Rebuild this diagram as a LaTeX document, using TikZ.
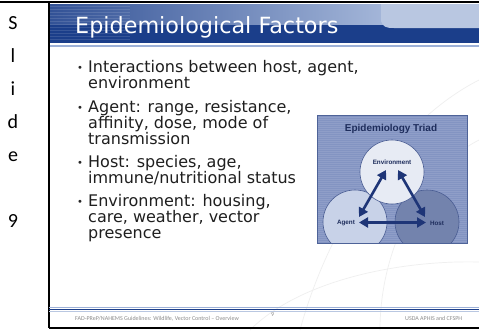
\documentclass[tikz,border=0pt]{standalone}
\usepackage{fontspec}
\setmainfont{DejaVu Sans}
\newfontfamily\carlito{Carlito}
\newfontfamily\libsans{Liberation Sans}
\usetikzlibrary{arrows.meta}
\definecolor{navy}{HTML}{1B3E8A}
\definecolor{barlight}{HTML}{A6B8DA}
\definecolor{tablight}{HTML}{B9C7E1}
\definecolor{linelight}{HTML}{9DB1D8}
\definecolor{boxbg}{HTML}{8394C2}
\definecolor{boxedge}{HTML}{4E6398}
\definecolor{envc}{HTML}{E7EBF4}
\definecolor{agentc}{HTML}{C8D2E8}
\definecolor{hostc}{HTML}{7383AD}
\definecolor{circedge}{HTML}{4A5D93}
\definecolor{arrowc}{HTML}{1E3577}
\definecolor{triadtitle}{HTML}{1E2D5C}
\definecolor{foot}{HTML}{8C8C8C}
\definecolor{faint}{HTML}{EFEFEF}
\begin{document}
\begin{tikzpicture}[x=1pt,y=-1pt,
  bodytxt/.style={anchor=base west,inner sep=0pt,font=\fontsize{16}{16}\selectfont,text=black!88},
  bul/.style={anchor=base west,inner sep=0pt,font=\fontsize{10}{10}\selectfont,text=black!85},
  side/.style={anchor=base,inner sep=0pt,font=\carlito\fontsize{20}{20}\selectfont},
  foottxt/.style={anchor=base west,inner sep=0pt,font=\carlito\fontsize{6}{6}\selectfont,text=foot},
  circ/.style={circle,draw=circedge,line width=0.6pt,minimum size=64pt,inner sep=0pt},
  clbl/.style={inner sep=0pt,font=\libsans\bfseries\fontsize{6.3}{6.3}\selectfont,text=triadtitle},
  tarrow/.style={draw=arrowc,line width=2.6pt,{Triangle[length=9pt,width=10pt]}-{Triangle[length=9pt,width=10pt]}}
]
\useasboundingbox (0,0) rectangle (479,330);
\fill[white] (0,0) rectangle (479,330);
% faint background lines
\draw[faint,line width=0.7pt] (300,330) .. controls (330,220) and (400,120) .. (479,80);
\draw[faint,line width=0.7pt] (380,330) .. controls (380,250) and (420,170) .. (479,140);
\draw[faint,line width=0.7pt] (250,330) .. controls (300,280) and (400,260) .. (479,262);
% title bar
\fill[navy] (49,4) rectangle (479,43);
\shade[left color=navy!90!white, right color=barlight] (49,4) rectangle (390,24);
\foreach \yy in {6,9,...,40} \draw[white,opacity=0.12,line width=0.6pt] (49,\yy) -- (130,\yy);
\fill[tablight] (381,4) -- (381,21) .. controls (383,27) and (386,28) .. (394,28) -- (479,28) -- (479,4) -- cycle;
\draw[linelight,line width=1.2pt] (49,46) -- (479,46);
\node[anchor=base west,inner sep=0pt,text=white,font=\fontsize{22.3}{22.3}\selectfont] (title) at (75,33) {Epidemiological Factors};
% frame lines
\draw[black,line width=2pt] (0,2) -- (479,2);
\draw[black,line width=1.6pt] (49,2) -- (49,328);
\draw[black,line width=1.6pt] (49,328) -- (479,328);
% side letters
\node[side] (s1) at (13,29) {S};
\node[side] (s2) at (13,62) {l};
\node[side] (s3) at (13,95) {i};
\node[side] (s4) at (13,128) {d};
\node[side] (s5) at (13,161) {e};
\node[side] (s6) at (13,227) {9};
% bullets
\node[bul] (u1) at (77,71) {•};
\node[bodytxt] (t1a) at (88,72) {Interactions between host, agent,};
\node[bodytxt] (t1b) at (88,88) {environment};
\node[bul] (u2) at (77,111) {•};
\node[bodytxt] (t2a) at (88,112) {Agent: range, resistance,};
\node[bodytxt] (t2b) at (88,128) {affinity, dose, mode of};
\node[bodytxt] (t2c) at (88,144) {transmission};
\node[bul] (u3) at (77,166) {•};
\node[bodytxt] (t3a) at (88,167) {Host: species, age,};
\node[bodytxt] (t3b) at (88,183) {immune/nutritional status};
\node[bul] (u4) at (77,205) {•};
\node[bodytxt] (t4a) at (88,206) {Environment: housing,};
\node[bodytxt] (t4b) at (88,222) {care, weather, vector};
\node[bodytxt] (t4c) at (88,238) {presence};
% triad picture
\fill[boxbg] (317,115) rectangle (467,243);
\foreach \yy in {117,119,...,242} \draw[white,opacity=0.10,line width=0.5pt] (317,\yy) -- (467,\yy);
\node[inner sep=0pt,font=\libsans\bfseries\fontsize{10}{10}\selectfont,text=triadtitle] (ttl) at (391,129) {Epidemiology Triad};
\begin{scope}
\clip (317,115) rectangle (467,243);
\node[circ,fill=agentc] (agent) at (355,222) {};
\node[circ,fill=hostc] (host) at (427,222) {};
\node[circ,fill=envc] (env) at (392,172) {};
\end{scope}
\draw[boxedge,line width=1pt] (317,115) rectangle (467,243);
\node[clbl] (envl) at (392,162) {Environment};
\node[clbl] (agentl) at (346,223) {Agent};
\node[clbl] (hostl) at (437,223) {Host};
\coordinate (ea) at (386,170);
\coordinate (eh) at (398,170);
\coordinate (ae) at (359,217);
\coordinate (he) at (425,217);
\coordinate (ah) at (359,222.5);
\coordinate (ha) at (426,222.5);
\draw[tarrow] (ea) -- (ae);
\draw[tarrow] (eh) -- (he);
\draw[tarrow] (ah) -- (ha);
% footer
\draw[linelight,line width=0.8pt] (49,307) -- (479,307);
\draw[navy,line width=1.4pt] (49,309.5) -- (479,309.5);
\draw[tablight,line width=0.8pt] (49,311.8) -- (479,311.8);
\node[foottxt] (f1) at (75,320) {FAD-PReP/NAHEMS Guidelines: Wildlife, Vector Control – Overview};
\node[foottxt] (f2) at (271,316) {9};
\node[foottxt] (f3) at (405,320) {USDA APHIS and CFSPH};
\end{tikzpicture}
\end{document}
